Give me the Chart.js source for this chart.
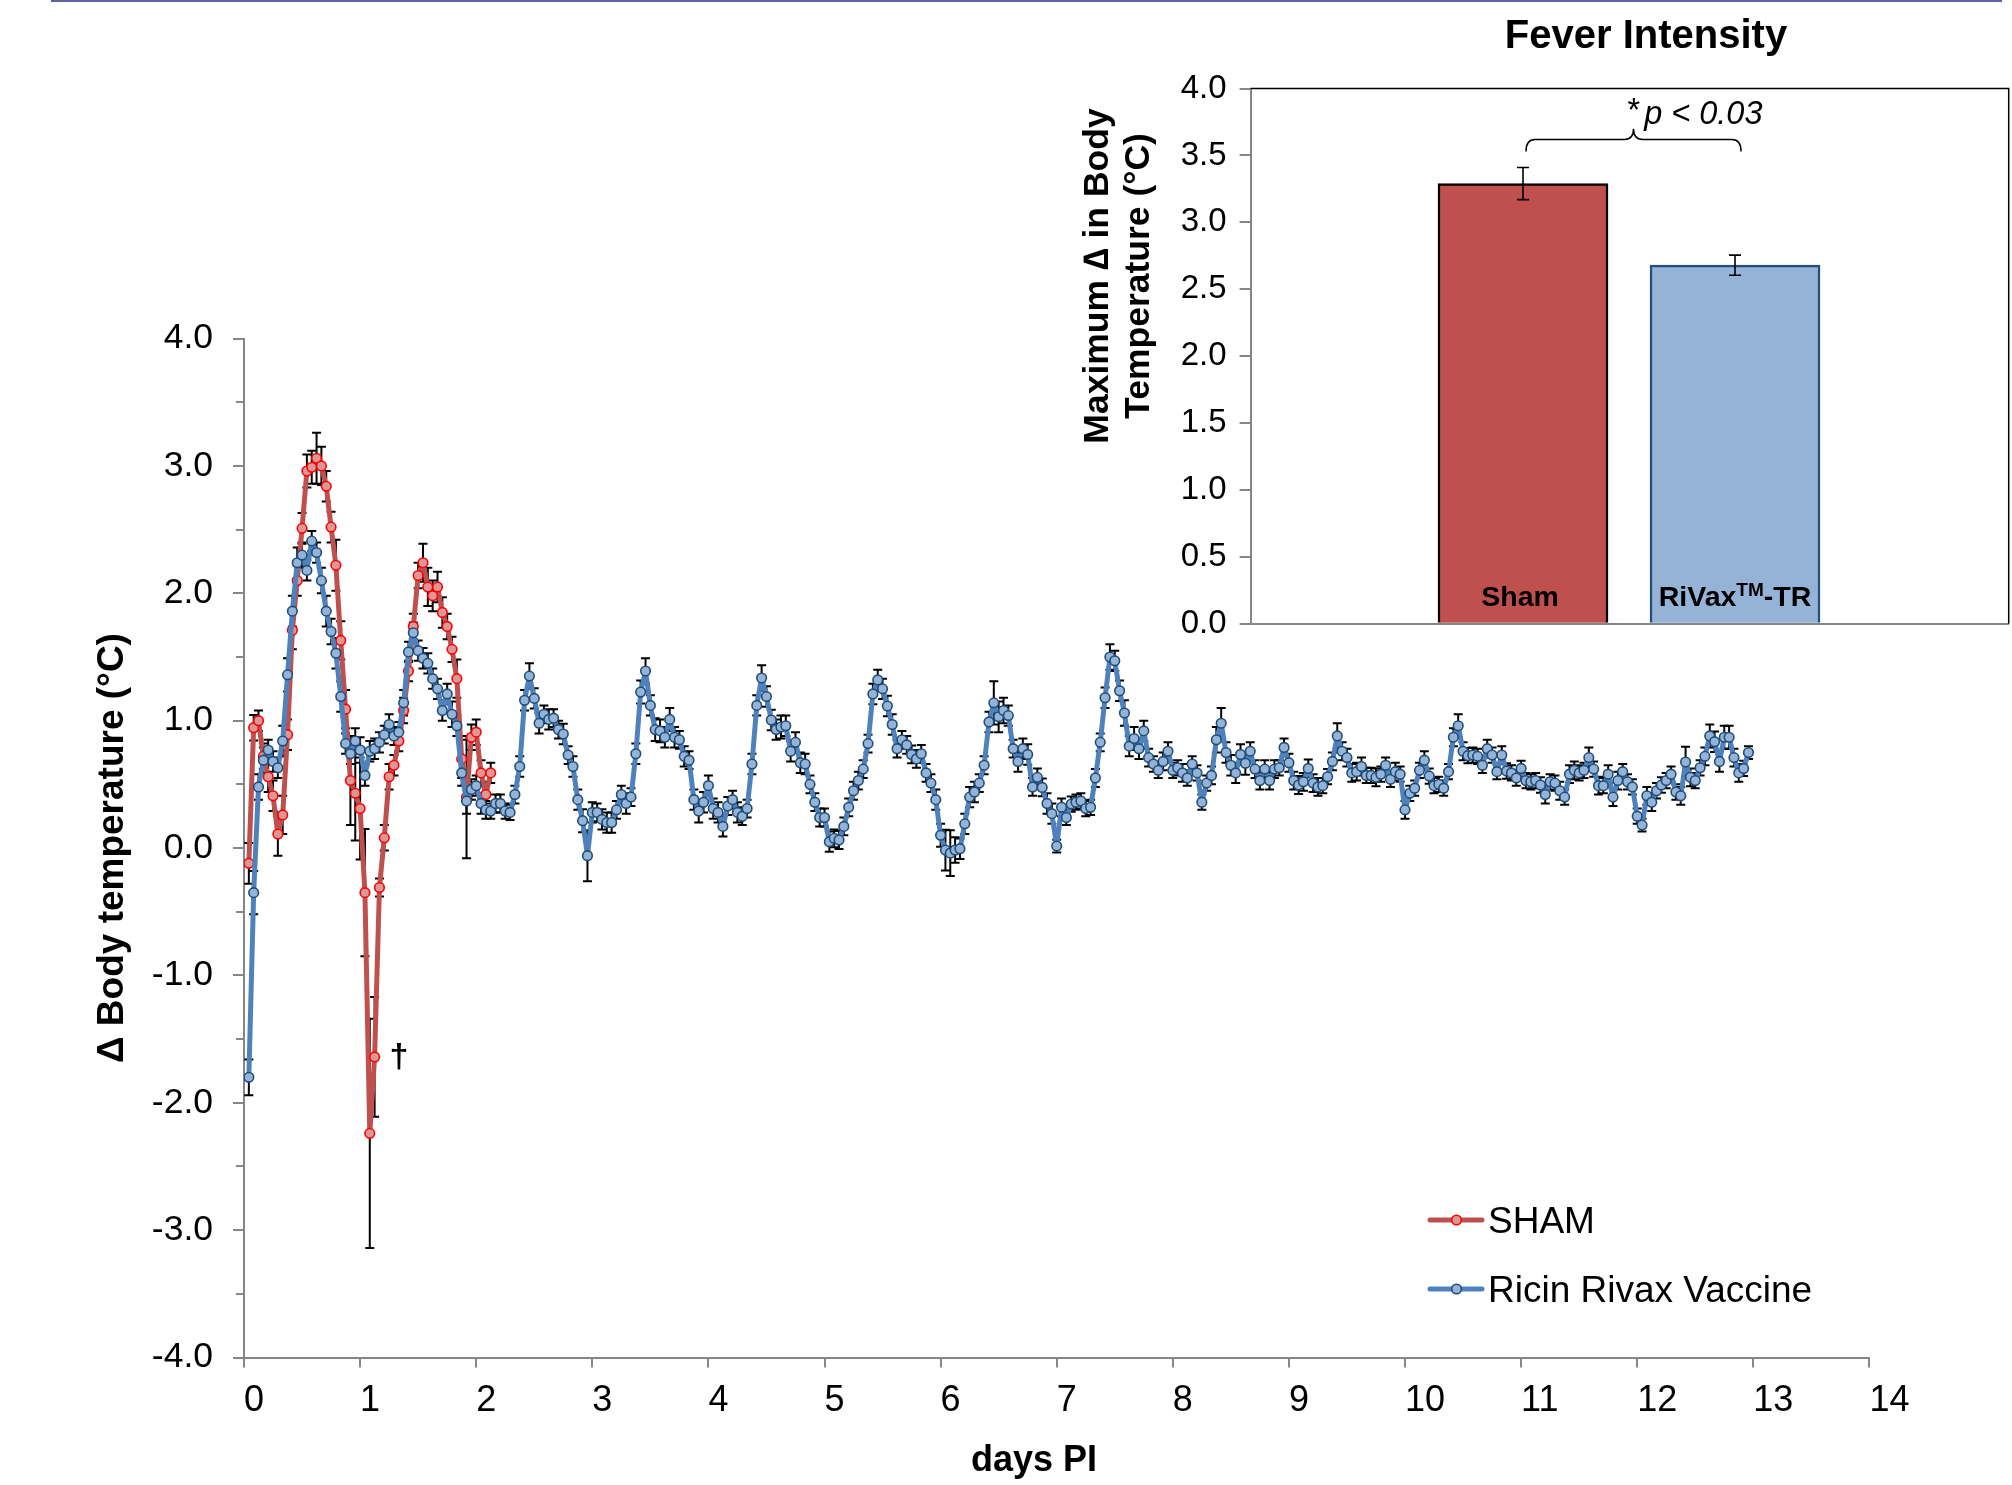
<!DOCTYPE html>
<html><head><meta charset="utf-8">
<script src="https://cdn.jsdelivr.net/npm/chart.js@4.4.1/dist/chart.umd.min.js"></script>
<style>
html,body{margin:0;padding:0;background:#fff;width:2012px;height:1485px;overflow:hidden;}
#main{position:absolute;left:0;top:0;}
#inset{position:absolute;left:1060px;top:0;}
</style></head><body>
<canvas id="main" width="2012" height="1485"></canvas>
<canvas id="inset" width="952" height="700"></canvas>
<script>
const FONT = '"Liberation Sans", Arial, Helvetica, sans-serif';

// ---------- main chart data (hourly samples, first sample at hour 1 PI) ----------
const firstHour = 1;
const hoursPerDay = 24;
const seriesNames = ['SHAM', 'Ricin Rivax Vaccine'];

const shamTemp = [
 -0.12, 0.945, 1.00, 0.72, 0.56, 0.41, 0.11, 0.26, 0.89, 1.71, 2.10, 2.51, 2.96, 2.99, 3.06, 3.00, 2.84, 2.52, 2.22, 1.63, 1.09, 0.53, 0.43, 0.31,
 -0.35, -2.24, -1.64, -0.31, 0.08, 0.56, 0.65, 0.84, 1.08, 1.39, 1.74, 2.14, 2.24, 2.05, 1.98, 2.05, 1.85, 1.74, 1.56, 1.33, 0.70, 0.40, 0.87, 0.91,
 0.59, 0.42, 0.59
];
const shamErr = [
 0.16, 0.10, 0.08, 0.10, 0.12, 0.12, 0.17, 0.15, 0.12, 0.15, 0.12, 0.12, 0.13, 0.13, 0.20, 0.15, 0.12, 0.12, 0.20, 0.15, 0.15, 0.35, 0.37, 0.40,
 0.50, 0.90, 0.47, 0.07, 0.10, 0.10, 0.08, 0.08, 0.10, 0.08, 0.10, 0.10, 0.15, 0.15, 0.12, 0.12, 0.12, 0.10, 0.10, 0.15, 0.15, 0.48, 0.10, 0.10,
 0.10, 0.10, 0.08
];

const rivaxTemp = [
 -1.80, -0.35, 0.48, 0.69, 0.77, 0.68, 0.63, 0.84, 1.36, 1.86, 2.24, 2.30, 2.18, 2.41, 2.32, 2.10, 1.86, 1.70, 1.53, 1.19, 0.82, 0.74, 0.84, 0.77,
 0.57, 0.76, 0.78, 0.83, 0.89, 0.97, 0.88, 0.91, 1.14, 1.54, 1.69, 1.55, 1.49, 1.45, 1.33, 1.25, 1.08, 1.21, 1.05, 0.96, 0.59, 0.37, 0.46, 0.49,
 0.35, 0.30, 0.29, 0.35, 0.35, 0.29, 0.28, 0.42, 0.64, 1.16, 1.35, 1.175, 0.98, 1.05, 1.01, 1.02, 0.93, 0.895, 0.73, 0.64, 0.38, 0.215, -0.06, 0.28,
 0.28, 0.225, 0.20, 0.20, 0.30, 0.42, 0.35, 0.40, 0.74, 1.225, 1.39, 1.12, 0.93, 0.92, 0.87, 1.01, 0.87, 0.85, 0.72, 0.69, 0.38, 0.29, 0.36, 0.49,
 0.31, 0.28, 0.17, 0.33, 0.38, 0.28, 0.25, 0.31, 0.66, 1.12, 1.335, 1.19, 1.005, 0.93, 0.95, 0.96, 0.76, 0.83, 0.67, 0.66, 0.50, 0.36, 0.24, 0.24,
 0.05, 0.076, 0.063, 0.17, 0.32, 0.45, 0.53, 0.62, 0.82, 1.21, 1.32, 1.25, 1.115, 0.97, 0.78, 0.85, 0.81, 0.735, 0.70, 0.74, 0.59, 0.51, 0.38, 0.10,
 -0.016, -0.04, -0.016, -0.005, 0.19, 0.40, 0.44, 0.51, 0.65, 0.99, 1.14, 1.03, 1.08, 1.04, 0.78, 0.68, 0.78, 0.735, 0.48, 0.555, 0.476, 0.35, 0.27, 0.016,
 0.32, 0.24, 0.345, 0.36, 0.37, 0.31, 0.32, 0.55, 0.83, 1.18, 1.50, 1.47, 1.235, 1.06, 0.80, 0.86, 0.78, 0.92, 0.71, 0.66, 0.61, 0.68, 0.76, 0.61,
 0.63, 0.59, 0.55, 0.66, 0.59, 0.36, 0.51, 0.57, 0.85, 0.98, 0.75, 0.65, 0.59, 0.735, 0.665, 0.76, 0.62, 0.53, 0.62, 0.53, 0.62, 0.63, 0.79, 0.67,
 0.53, 0.495, 0.52, 0.625, 0.51, 0.48, 0.49, 0.56, 0.68, 0.88, 0.76, 0.71, 0.59, 0.60, 0.64, 0.57, 0.57, 0.555, 0.58, 0.65, 0.54, 0.60, 0.58, 0.30,
 0.43, 0.47, 0.61, 0.69, 0.565, 0.49, 0.50, 0.47, 0.60, 0.87, 0.96, 0.76, 0.725, 0.73, 0.72, 0.65, 0.78, 0.73, 0.60, 0.73, 0.605, 0.59, 0.55, 0.625,
 0.53, 0.52, 0.53, 0.495, 0.42, 0.52, 0.51, 0.45, 0.40, 0.58, 0.61, 0.59, 0.61, 0.71, 0.62, 0.49, 0.49, 0.58, 0.40, 0.53, 0.60, 0.52, 0.48, 0.25,
 0.18, 0.41, 0.36, 0.45, 0.495, 0.53, 0.58, 0.44, 0.41, 0.675, 0.555, 0.53, 0.63, 0.72, 0.88, 0.835, 0.68, 0.87, 0.87, 0.71, 0.59, 0.625, 0.75
];
const rivaxErr = [
 0.14, 0.17, 0.10, 0.10, 0.08, 0.08, 0.08, 0.12, 0.13, 0.12, 0.12, 0.10, 0.08, 0.08, 0.08, 0.10, 0.12, 0.10, 0.12, 0.12, 0.08, 0.08, 0.10, 0.10,
 0.08, 0.08, 0.08, 0.08, 0.07, 0.08, 0.07, 0.08, 0.10, 0.08, 0.08, 0.08, 0.08, 0.08, 0.08, 0.08, 0.08, 0.08, 0.10, 0.08, 0.10, 0.10, 0.08, 0.08,
 0.08, 0.07, 0.06, 0.07, 0.07, 0.06, 0.06, 0.07, 0.08, 0.08, 0.10, 0.08, 0.08, 0.07, 0.08, 0.07, 0.07, 0.08, 0.07, 0.08, 0.08, 0.09, 0.20, 0.08,
 0.07, 0.08, 0.08, 0.08, 0.07, 0.07, 0.08, 0.07, 0.08, 0.09, 0.10, 0.08, 0.09, 0.09, 0.08, 0.09, 0.08, 0.07, 0.08, 0.07, 0.08, 0.09, 0.08, 0.08,
 0.08, 0.08, 0.08, 0.07, 0.07, 0.08, 0.07, 0.07, 0.08, 0.08, 0.10, 0.08, 0.08, 0.08, 0.09, 0.08, 0.08, 0.08, 0.08, 0.08, 0.07, 0.07, 0.07, 0.07,
 0.08, 0.07, 0.07, 0.07, 0.07, 0.07, 0.07, 0.07, 0.07, 0.08, 0.08, 0.08, 0.08, 0.08, 0.07, 0.07, 0.07, 0.07, 0.07, 0.07, 0.07, 0.07, 0.08, 0.09,
 0.16, 0.18, 0.10, 0.08, 0.08, 0.08, 0.08, 0.07, 0.07, 0.08, 0.17, 0.12, 0.10, 0.08, 0.07, 0.08, 0.08, 0.08, 0.07, 0.07, 0.07, 0.08, 0.08, 0.05,
 0.07, 0.06, 0.06, 0.06, 0.06, 0.06, 0.06, 0.07, 0.07, 0.08, 0.10, 0.08, 0.08, 0.10, 0.08, 0.09, 0.08, 0.08, 0.07, 0.06, 0.06, 0.07, 0.07, 0.06,
 0.06, 0.07, 0.06, 0.06, 0.06, 0.06, 0.06, 0.07, 0.10, 0.12, 0.08, 0.08, 0.08, 0.08, 0.09, 0.07, 0.07, 0.07, 0.07, 0.07, 0.07, 0.06, 0.07, 0.07,
 0.07, 0.07, 0.07, 0.07, 0.07, 0.07, 0.06, 0.06, 0.07, 0.10, 0.07, 0.07, 0.07, 0.07, 0.07, 0.06, 0.06, 0.07, 0.06, 0.06, 0.06, 0.07, 0.06, 0.07,
 0.06, 0.06, 0.06, 0.07, 0.06, 0.06, 0.06, 0.06, 0.06, 0.07, 0.09, 0.07, 0.06, 0.06, 0.06, 0.06, 0.07, 0.06, 0.06, 0.07, 0.06, 0.06, 0.06, 0.06,
 0.06, 0.06, 0.06, 0.06, 0.07, 0.06, 0.06, 0.07, 0.06, 0.07, 0.07, 0.06, 0.06, 0.08, 0.06, 0.07, 0.06, 0.07, 0.07, 0.07, 0.06, 0.06, 0.06, 0.06,
 0.05, 0.07, 0.07, 0.06, 0.06, 0.06, 0.06, 0.06, 0.07, 0.12, 0.07, 0.06, 0.06, 0.07, 0.09, 0.08, 0.08, 0.09, 0.09, 0.07, 0.07, 0.06, 0.05
];

const dayAxis = { min: 0, max: 14, step: 1 };
const tempAxis = { min: -4, max: 4, step: 0.5 };

// ---------- inset bar chart data ----------
const barCategories = ['Sham', 'RiVax'];
const barValues = [3.29, 2.68];
const barErrors = [0.12, 0.075];
const barAxis = { min: 0, max: 4, step: 0.5 };
const pLabel = 'p < 0.03';

// ---------- styles ----------
const AXIS_GREY = '#868686';
const RED_LINE = '#C0504D', RED_FILL = '#DA9896', RED_EDGE = '#FF0000';
const BLUE_LINE = '#4F81BD', BLUE_FILL = '#95B3D7', BLUE_EDGE = '#1F4E79';

const toPoints = vals => vals.map((v, i) => ({ x: (firstHour + i) / hoursPerDay, y: v }));

const errorBars = {
  id: 'errorBars',
  beforeDatasetsDraw(chart) {
    const ctx = chart.ctx, ys = chart.scales.y, ca = chart.chartArea;
    ctx.save();
    ctx.beginPath(); ctx.rect(ca.left, ca.top - 20, ca.right - ca.left, ca.bottom - ca.top + 20); ctx.clip();
    ctx.strokeStyle = '#000'; ctx.lineWidth = 2;
    chart.data.datasets.forEach((ds, di) => {
      const meta = chart.getDatasetMeta(di);
      meta.data.forEach((pt, i) => {
        const v = ds.data[i].y, e = ds.errors[i];
        const x = pt.x, y1 = ys.getPixelForValue(v + e), y2 = ys.getPixelForValue(v - e);
        ctx.beginPath();
        ctx.moveTo(x, y1); ctx.lineTo(x, y2);
        ctx.moveTo(x - 4.5, y1); ctx.lineTo(x + 4.5, y1);
        ctx.moveTo(x - 4.5, y2); ctx.lineTo(x + 4.5, y2);
        ctx.stroke();
      });
    });
    ctx.restore();
  }
};

const mainDecor = {
  id: 'mainDecor',
  afterDraw(chart) {
    const ctx = chart.ctx, ys = chart.scales.y, ca = chart.chartArea;
    ctx.save();
    // top rule
    ctx.fillStyle = '#62629F';
    ctx.fillRect(51, 0, 1951, 2);
    // minor y ticks
    ctx.strokeStyle = AXIS_GREY; ctx.lineWidth = 2;
    for (let v = tempAxis.min; v <= tempAxis.max; v += tempAxis.step) {
      if (Math.abs(v - Math.round(v)) < 1e-6) continue;
      const y = Math.round(ys.getPixelForValue(v));
      ctx.beginPath(); ctx.moveTo(ca.left - 8, y); ctx.lineTo(ca.left, y); ctx.stroke();
    }
    // axis titles
    ctx.fillStyle = '#000';
    ctx.font = 'bold 36px ' + FONT;
    ctx.textAlign = 'center'; ctx.textBaseline = 'middle';
    ctx.fillText('days PI', 1034, 1461);
    ctx.save();
    ctx.font = 'bold 37px ' + FONT;
    ctx.translate(113, (ca.top + ca.bottom) / 2);
    ctx.rotate(-Math.PI / 2);
    ctx.fillText('\u0394 Body temperature (\u00B0C)', 0, 0);
    ctx.restore();
    // dagger marking the death in the sham group
    ctx.font = 'bold 34px ' + FONT;
    ctx.fillText('\u2020', 399, 1058);
    // legend
    const items = [
      { label: seriesNames[0], line: RED_LINE, fill: RED_FILL, edge: RED_EDGE, y: 1220 },
      { label: seriesNames[1], line: BLUE_LINE, fill: BLUE_FILL, edge: BLUE_EDGE, y: 1289 }
    ];
    ctx.font = '37px ' + FONT; ctx.textAlign = 'left'; ctx.textBaseline = 'alphabetic';
    items.forEach(it => {
      ctx.strokeStyle = it.line; ctx.lineWidth = 5; ctx.lineCap = 'round';
      ctx.beginPath(); ctx.moveTo(1430, it.y); ctx.lineTo(1482, it.y); ctx.stroke();
      ctx.beginPath(); ctx.arc(1456.5, it.y, 4.8, 0, Math.PI * 2);
      ctx.fillStyle = it.fill; ctx.fill();
      ctx.lineWidth = 1.6; ctx.strokeStyle = it.edge; ctx.stroke();
      ctx.fillStyle = '#000';
      ctx.fillText(it.label, 1488, it.y + 13);
    });
    ctx.restore();
  }
};

const isMajor = v => Math.abs(v - Math.round(v)) < 1e-6;

new Chart(document.getElementById('main'), {
  type: 'line',
  data: {
    datasets: [
      {
        label: seriesNames[1], data: toPoints(rivaxTemp), errors: rivaxErr,
        borderColor: BLUE_LINE, borderWidth: 5, borderJoinStyle: 'round', borderCapStyle: 'round',
        pointRadius: 4.8, pointBorderWidth: 1.6, pointBackgroundColor: BLUE_FILL, pointBorderColor: BLUE_EDGE,
        tension: 0, fill: false
      },
      {
        label: seriesNames[0], data: toPoints(shamTemp), errors: shamErr,
        borderColor: RED_LINE, borderWidth: 5, borderJoinStyle: 'round', borderCapStyle: 'round',
        pointRadius: 4.8, pointBorderWidth: 1.6, pointBackgroundColor: RED_FILL, pointBorderColor: RED_EDGE,
        tension: 0, fill: false
      }
    ]
  },
  options: {
    responsive: false, animation: false, devicePixelRatio: 1,
    layout: { padding: { left: 0, top: 338.6, right: 142.6, bottom: 0 } },
    plugins: { legend: { display: false }, tooltip: { enabled: false } },
    scales: {
      x: {
        type: 'linear', min: dayAxis.min, max: dayAxis.max,
        afterFit: s => { s.height = 127.5; },
        ticks: { stepSize: dayAxis.step, autoSkip: false, maxRotation: 0, color: '#000', align: 'start',
                 font: { family: FONT, size: 36 }, padding: 12, labelOffset: 0 },
        grid: { drawOnChartArea: false, drawTicks: true, tickLength: 10, color: AXIS_GREY, lineWidth: 2 },
        border: { display: true, color: AXIS_GREY, width: 2 }
      },
      y: {
        type: 'linear', min: tempAxis.min, max: tempAxis.max,
        afterFit: s => { s.width = 244; },
        ticks: { stepSize: tempAxis.step, autoSkip: false, color: '#000',
                 font: { family: FONT, size: 35.5 }, padding: 20,
                 callback: v => isMajor(v) ? Number(v).toFixed(1) : '' },
        grid: { drawOnChartArea: false, drawTicks: true, tickLength: 11, lineWidth: 2,
                color: c => (c.tick && isMajor(c.tick.value)) ? AXIS_GREY : 'rgba(0,0,0,0)' },
        border: { display: true, color: AXIS_GREY, width: 2 }
      }
    }
  },
  plugins: [errorBars, mainDecor]
});

// ---------- inset ----------
const insetDecor = {
  id: 'insetDecor',
  afterDatasetsDraw(chart) {
    const ctx = chart.ctx, ys = chart.scales.y, ca = chart.chartArea;
    const bars = chart.getDatasetMeta(0).data;
    ctx.save();
    // frame top & right
    ctx.strokeStyle = '#000'; ctx.lineWidth = 1.5;
    ctx.beginPath(); ctx.moveTo(ca.left, ca.top); ctx.lineTo(ca.right, ca.top); ctx.lineTo(ca.right, ca.bottom); ctx.stroke();
    // error bars
    ctx.lineWidth = 1.6;
    bars.forEach((b, i) => {
      const y1 = ys.getPixelForValue(barValues[i] + barErrors[i]);
      const y2 = ys.getPixelForValue(barValues[i] - barErrors[i]);
      ctx.beginPath();
      ctx.moveTo(b.x, y1); ctx.lineTo(b.x, y2);
      ctx.moveTo(b.x - 6, y1); ctx.lineTo(b.x + 6, y1);
      ctx.moveTo(b.x - 6, y2); ctx.lineTo(b.x + 6, y2);
      ctx.stroke();
    });
    // bar labels
    ctx.fillStyle = '#000'; ctx.textBaseline = 'alphabetic';
    const base = ys.getPixelForValue(0) - 18;
    ctx.font = 'bold 28.5px ' + FONT; ctx.textAlign = 'center';
    ctx.fillText(barCategories[0], bars[0].x - 3, base);
    // RiVax(TM)-TR with superscript
    const big = 'bold 28.5px ' + FONT, small = 'bold 19px ' + FONT;
    ctx.font = big; const w1 = ctx.measureText(barCategories[1]).width, w3 = ctx.measureText('-TR').width;
    ctx.font = small; const w2 = ctx.measureText('TM').width;
    let x = bars[1].x - (w1 + w2 + w3) / 2;
    ctx.textAlign = 'left';
    ctx.font = big; ctx.fillText(barCategories[1], x, base); x += w1;
    ctx.font = small; ctx.fillText('TM', x, base - 10); x += w2;
    ctx.font = big; ctx.fillText('-TR', x, base);
    // significance bracket
    const xl = bars[0].x + 3, xr = bars[1].x + 6, xm = (xl + xr) / 2;
    const yEnd = ys.getPixelForValue(3.53), yH = ys.getPixelForValue(3.62), yTip = ys.getPixelForValue(3.70);
    const r = 9;
    ctx.lineWidth = 1.5; ctx.strokeStyle = '#000';
    ctx.beginPath();
    ctx.moveTo(xl, yEnd);
    ctx.quadraticCurveTo(xl, yH, xl + r, yH);
    ctx.lineTo(xm - r, yH);
    ctx.quadraticCurveTo(xm, yH, xm, yTip);
    ctx.quadraticCurveTo(xm, yH, xm + r, yH);
    ctx.lineTo(xr - r, yH);
    ctx.quadraticCurveTo(xr, yH, xr, yEnd);
    ctx.stroke();
    // p-value text
    ctx.font = '32.5px ' + FONT; const ws = ctx.measureText('*').width;
    ctx.font = 'italic 32.5px ' + FONT; const wp = ctx.measureText(pLabel).width;
    let px = 635 - (ws + 4 + wp) / 2;
    ctx.font = '32.5px ' + FONT; ctx.fillText('*', px, 121);
    ctx.font = 'italic 32.5px ' + FONT; ctx.fillText(pLabel, px + ws + 4, 124);
    // title
    ctx.font = 'bold 40px ' + FONT; ctx.textAlign = 'center';
    ctx.fillText('Fever Intensity', 586, 48);
    // y title (two lines)
    ctx.font = 'bold 35.5px ' + FONT; ctx.textBaseline = 'middle';
    ctx.save(); ctx.translate(38, 276); ctx.rotate(-Math.PI / 2);
    ctx.fillText('Maximum \u2206 in Body', 0, 0); ctx.restore();
    ctx.save(); ctx.translate(79, 276); ctx.rotate(-Math.PI / 2);
    ctx.fillText('Temperature (\u00B0C)', 0, 0); ctx.restore();
    ctx.restore();
  }
};

new Chart(document.getElementById('inset'), {
  type: 'bar',
  data: {
    datasets: [{
      data: barValues.map((v, i) => ({ x: i, y: v })),
      backgroundColor: [RED_LINE, BLUE_FILL],
      borderColor: ['#000000', '#254E80'],
      borderWidth: 2.5,
      barThickness: 170
    }]
  },
  options: {
    responsive: false, animation: false, devicePixelRatio: 1,
    layout: { padding: { left: 0, top: 88.6, right: 3.3, bottom: 0 } },
    plugins: { legend: { display: false }, tooltip: { enabled: false } },
    scales: {
      x: {
        type: 'linear', min: -1.285, max: barCategories.length - 1 + 1.291, offset: false,
        afterFit: s => { s.height = 76.3; },
        ticks: { display: false, stepSize: 1 },
        grid: { display: false },
        border: { display: true, color: AXIS_GREY, width: 2 }
      },
      y: {
        min: barAxis.min, max: barAxis.max,
        afterFit: s => { s.width = 190.6; },
        ticks: { stepSize: barAxis.step, color: '#000', font: { family: FONT, size: 33 }, padding: 13,
                 callback: v => Number(v).toFixed(1) },
        grid: { drawOnChartArea: false, drawTicks: true, tickLength: 11, color: AXIS_GREY, lineWidth: 2 },
        border: { display: true, color: AXIS_GREY, width: 2 }
      }
    }
  },
  plugins: [insetDecor]
});
</script>
</body></html>
